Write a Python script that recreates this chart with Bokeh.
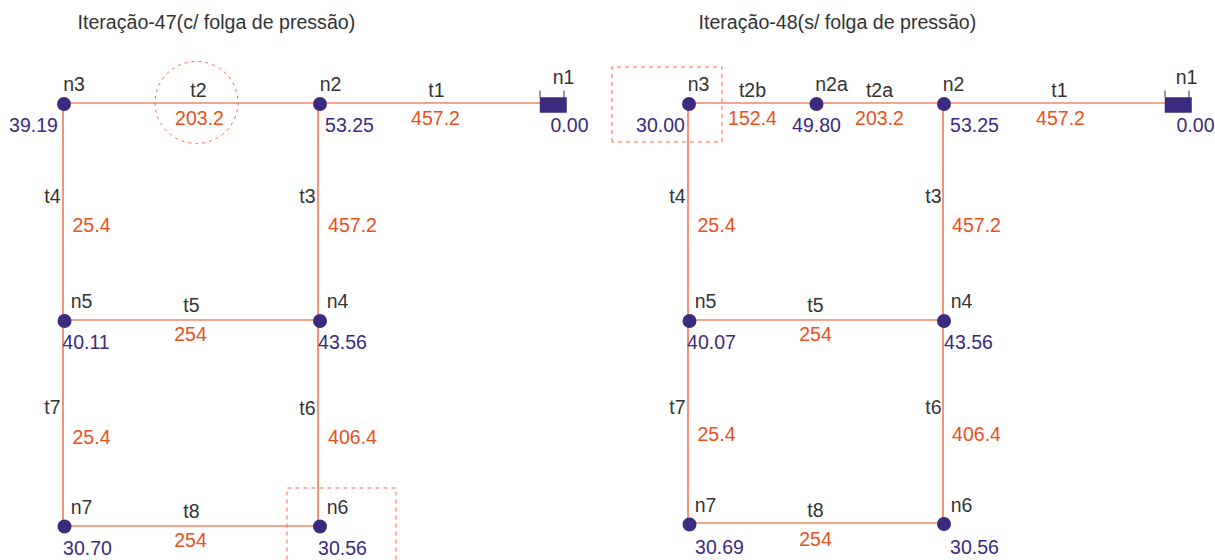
from bokeh.plotting import figure
from bokeh.embed import file_html
from bokeh.resources import INLINE
from bokeh.core.properties import value

# Network geometry of both panels
pipe_x0 = [63.5, 319.5, 63.5, 318.5, 63.5, 318.5, 63.5, 63.5, 688.5, 816, 944, 688.5, 943.5, 688.5, 943.5, 688.5, 688.5]
pipe_y0 = [103.5, 103.5, 103.5, 103.5, 320.5, 320.5, 320.5, 526.5, 103.5, 103.5, 103.5, 103.5, 103.5, 320.5, 320.5, 320.5, 523.5]
pipe_x1 = [319.5, 541, 63.5, 318.5, 318.5, 318.5, 63.5, 318.5, 816, 944, 1166, 688.5, 943.5, 943.5, 943.5, 688.5, 943.5]
pipe_y1 = [103.5, 103.5, 320.5, 320.5, 320.5, 526.5, 526.5, 526.5, 103.5, 103.5, 103.5, 320.5, 320.5, 320.5, 523.5, 523.5, 523.5]

node_x = [64.5, 320.5, 65, 320.5, 65, 320.5, 689.5, 817, 944.5, 690, 944.5, 690, 944.5]
node_y = [104.5, 104.5, 321.5, 321.5, 527, 527, 104.5, 104.5, 104.5, 321.5, 321.5, 525, 524.5]

reservoir_left = [540.5, 1165.5]
reservoir_right = [567, 1192]
reservoir_top = [98, 98]
reservoir_bottom = [113, 113]
reservoir_tick_x = [540.5, 564.5, 1165.5, 1189.5]

circle_x = [197]
circle_y = [103]
circle_w = [83]
circle_h = [82]

box_x = [[287.5, 287.5, 396.5, 396.5], [612.5, 612.5, 722.5, 722.5, 612.5]]
box_y = [[576, 488.5, 488.5, 576], [142.5, 67.5, 67.5, 142.5, 142.5]]

titles = ["Iteração-47(c/ folga de pressão)", "Iteração-48(s/ folga de pressão)"]
title_x = [78, 699]
title_y = [22, 22]

name_text = ["n3", "t2", "n2", "t1", "n1", "t4", "t3", "n5", "t5", "n4", "t7", "t6", "n7", "t8", "n6",
             "n3", "t2b", "n2a", "t2a", "n2", "t1", "n1", "t4", "t3", "n5", "t5", "n4", "t7", "t6", "n7", "t8", "n6"]
name_x = [73.5, 198, 330, 436, 563, 52, 307, 81, 191, 337, 52, 307, 81, 191, 337,
          698, 752, 831, 879, 953, 1059, 1186, 677, 933, 705, 815, 961, 677, 933, 705, 815, 961]
name_y = [84, 90, 84, 90, 77, 196, 196, 301, 305, 301, 407, 408, 507, 511, 507,
          84, 90, 84, 90, 84, 90, 77, 196, 196, 301, 305, 301, 407, 407, 505, 510, 505]

diam_text = ["203.2", "457.2", "25.4", "457.2", "254", "25.4", "406.4", "254",
             "152.4", "203.2", "457.2", "25.4", "457.2", "254", "25.4", "406.4", "254"]
diam_x = [199, 435, 91, 352, 190, 91, 352, 190,
          752, 879, 1060, 716, 976, 815, 716, 976, 815]
diam_y = [118, 118, 225, 225, 334, 437, 437, 540,
          118, 118, 118, 225, 225, 334, 434, 434, 539]

press_text = ["39.19", "53.25", "0.00", "40.11", "43.56", "30.70", "30.56",
              "30.00", "49.80", "53.25", "0.00", "40.07", "43.56", "30.69", "30.56"]
press_x = [34, 350, 570, 86.5, 343, 88, 343,
           661, 817, 975, 1196, 712, 969, 720, 975]
press_y = [125, 125.5, 125.5, 342, 342, 548, 548,
           125, 125, 125, 125, 342, 342, 547, 547]

BLUE = "#3b2a7e"
ORANGE = "#e8501c"
DARK = "#333333"
DASH = "#f0693f"
FONT = value("Liberation Sans")

p = figure(width=1215, height=560, x_range=(1, 1216), y_range=(561, 1),
           output_backend="svg", toolbar_location=None, min_border=0,
           outline_line_color=None, background_fill_color="white", border_fill_color="white")
p.axis.visible = False
p.grid.visible = False

p.segment(pipe_x0, pipe_y0, pipe_x1, pipe_y1, line_color="#e94e1b", line_width=1.2)
p.ellipse(circle_x, circle_y, width=circle_w, height=circle_h, fill_color=None,
          line_color=DASH, line_width=1, line_dash="3 4")
p.multi_line(box_x, box_y, line_color=DASH, line_width=1, line_dash="4 4")
p.segment(reservoir_tick_x, [91] * 4, reservoir_tick_x, [98] * 4, line_color="#333333", line_width=1)
p.quad(left=reservoir_left, right=reservoir_right, top=reservoir_top, bottom=reservoir_bottom,
       fill_color=BLUE, line_color=BLUE, line_width=0.5)
p.scatter(node_x, node_y, size=14, marker="circle", fill_color=BLUE, line_color=BLUE, line_width=0)

p.text(title_x, title_y, text=titles, text_font=FONT, text_font_size="19.6px",
       text_color=DARK, text_align="left", text_baseline="middle")
p.text(name_x, name_y, text=name_text, text_font=FONT, text_font_size="19.5px", x_offset=1,
       text_color=DARK, text_align="center", text_baseline="middle")
p.text(diam_x, diam_y, text=diam_text, text_font=FONT, text_font_size="19.5px", x_offset=1,
       text_color=ORANGE, text_align="center", text_baseline="middle")
p.text(press_x, press_y, text=press_text, text_font=FONT, text_font_size="19.5px",
       text_color=BLUE, text_align="center", text_baseline="middle")

open("out.html", "w").write(file_html(p, INLINE))
